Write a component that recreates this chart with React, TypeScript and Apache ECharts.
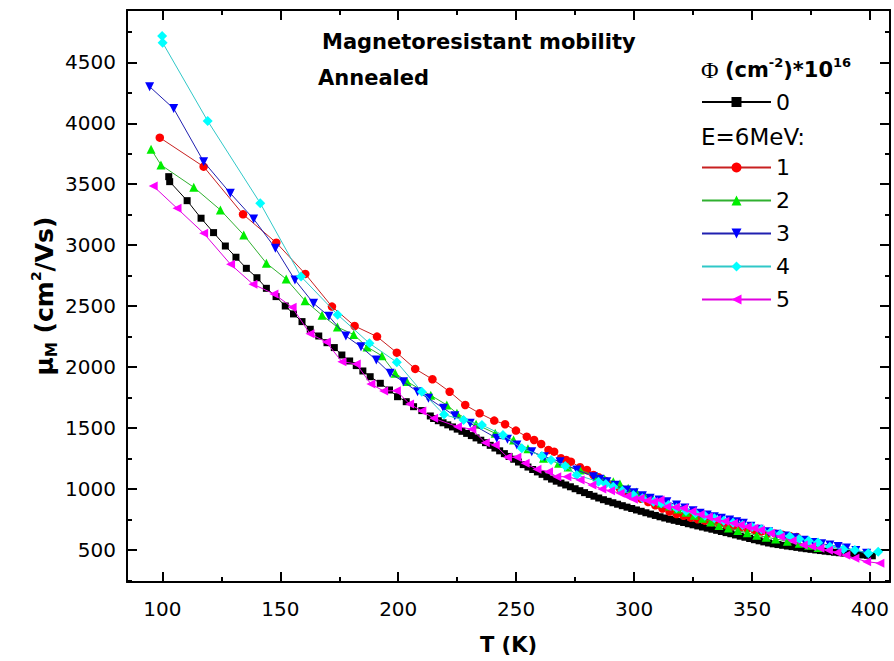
import React, { useEffect, useRef } from "react";
import * as echarts from "echarts";

const FONT = "DejaVu Sans";

// ---- axis ticks ----
const xMajorTicks = [100, 150, 200, 250, 300, 350, 400];
const xMinorTicks = [125, 175, 225, 275, 325, 375];
const yMajorTicks = [500, 1000, 1500, 2000, 2500, 3000, 3500, 4000, 4500];
const yMinorTicks = [250, 750, 1250, 1750, 2250, 2750, 3250, 3750, 4250, 4750];

const X_MIN = 85;
const X_MAX = 408.5;
const Y_MIN = 237;
const Y_MAX = 4929;

// ---- data: [T (K), mobility (cm^2/Vs)] ----
const s0: [number, number][] = [
  [102.7, 3562], [103.1, 3521], [110.5, 3365], [116.4, 3221], [121.7, 3103], [126.7, 2993],
  [131.2, 2901], [135.6, 2810], [140.1, 2733], [144.1, 2646], [148.2, 2578], [152.1, 2501],
  [155.6, 2436], [159.2, 2373], [162.7, 2310], [166.3, 2255], [169.8, 2200], [172.9, 2160],
  [176.1, 2099], [179.4, 2050], [182.2, 2012], [185.0, 1968], [188.1, 1921], [192.4, 1867],
  [196.3, 1812], [199.7, 1757], [203.4, 1716], [206.5, 1675], [210.0, 1643], [213.6, 1599],
  [215, 1578], [217, 1560], [219, 1543], [221, 1526], [223, 1509], [225, 1491],
  [227, 1473], [229, 1456], [231, 1438], [233, 1419], [235, 1400], [237, 1380],
  [239, 1358], [241, 1336], [243, 1313], [245, 1290], [247, 1267], [249, 1244],
  [251, 1221], [253, 1200], [255, 1180], [257, 1160], [259, 1140], [261, 1120],
  [263, 1100], [265, 1081], [267, 1064], [269, 1048], [271, 1033], [273, 1018],
  [275, 1002], [277, 986], [279, 970], [281, 955], [283, 941], [285, 926],
  [287, 912], [289, 899], [291, 887], [293, 875], [295, 863], [297, 851],
  [299, 840], [301, 828], [303, 817], [305, 805], [307, 794], [309, 783],
  [311, 772], [313, 762], [315, 752], [317, 743], [319, 734], [321, 725],
  [323, 715], [325, 706], [327, 697], [329, 688], [331, 679], [333, 670],
  [335, 661], [337, 651], [339, 642], [341, 633], [343, 623], [345, 613],
  [347, 604], [349, 594], [351, 584], [353, 575], [355, 566], [357, 557],
  [359, 550], [361, 544], [363, 538], [365, 532], [367, 527], [369, 521],
  [371, 515], [373, 510], [375, 505], [377, 500], [379, 495], [381, 490],
  [383, 486], [385, 481], [387, 477], [389, 474], [391, 470], [393, 466],
  [395, 463], [397, 459], [399, 456], [401, 452],
];

const s1: [number, number][] = [
  [98.9, 3882], [117.5, 3644], [134.2, 3253], [148.3, 3020], [160.6, 2764], [171.9, 2496],
  [181.5, 2337], [191.0, 2250], [199.4, 2118], [207.2, 1985], [214.5, 1900], [221.8, 1798],
  [228.4, 1689], [234.5, 1621], [240.7, 1561], [245.3, 1531], [249.9, 1479], [254.5, 1429],
  [257.6, 1402], [260.6, 1369], [263.7, 1320], [266.1, 1306], [269.0, 1252], [271.2, 1238],
  [273.2, 1224], [277.1, 1178], [280.0, 1156], [282.8, 1115], [284.9, 1096], [288, 1065],
  [291, 1035], [294, 1005], [297, 975], [300, 948], [303, 920], [306, 893],
  [309, 866], [312, 840], [315, 815], [318, 795], [321, 780], [324, 765],
  [327, 752], [330, 740], [333, 728], [336, 717], [339, 706], [342, 696],
  [345, 686], [348, 675], [351, 664], [354, 652], [357, 641], [360, 632],
  [363, 624], [366, 615], [369, 607],
];

const s2: [number, number][] = [
  [95.2, 3787], [99.4, 3658], [113.3, 3475], [124.6, 3289], [134.5, 3084], [144.1, 2852],
  [152.5, 2722], [160.5, 2544], [167.7, 2425], [174.2, 2328], [181.1, 2267], [186.8, 2165],
  [193.1, 2092], [198.7, 1950], [203.7, 1881], [213.8, 1768], [220.6, 1689], [224.9, 1621],
  [233, 1530], [241.1, 1457], [248.9, 1402], [255, 1330], [261.6, 1252], [268, 1211],
  [272, 1180], [277.1, 1156], [284.2, 1101], [287.5, 1080], [291.2, 1060], [294, 1040],
  [297.5, 1005], [301, 975], [304.5, 945], [308, 915], [311.5, 885], [315, 860],
  [318.5, 835], [322, 810], [325.5, 785], [329, 760], [332.5, 730], [336, 700],
  [340, 680], [344, 660], [348, 640], [352, 620], [356, 605], [360, 590],
  [365, 572], [370, 555], [374, 538], [378, 520],
];

const s3: [number, number][] = [
  [94.6, 4300], [104.8, 4120], [117.5, 3685], [128.8, 3426], [138.7, 3215], [147.9, 2975],
  [156.2, 2715], [164.1, 2523], [170.6, 2417], [177.8, 2255], [184.2, 2166], [190.7, 2058],
  [196.6, 1949], [202.2, 1880], [208.2, 1798], [212.8, 1744], [219.2, 1662], [224, 1600],
  [230.5, 1539], [241.8, 1416], [246.3, 1408], [250.3, 1361], [256.6, 1306], [262, 1265],
  [268.6, 1224], [275.7, 1156], [282.8, 1101], [285.5, 1080], [288.4, 1060], [292, 1030],
  [296.9, 992], [300, 970], [303.5, 945], [306.8, 924], [310.5, 910], [313.9, 896],
  [318, 869], [321.5, 845], [325, 822], [328, 801], [331, 787], [334, 773],
  [337, 760], [340.5, 745], [343.5, 732], [346.3, 719], [349.5, 695], [353, 670],
  [357, 650], [360.5, 629], [364, 615], [368, 600], [372, 580], [376, 560],
  [379.5, 550], [383, 540], [386.5, 528], [390, 515], [394, 495], [398.6, 473],
];

const s4: [number, number][] = [
  [99.9, 4716], [100.1, 4661], [119.2, 4019], [141.5, 3344], [158.8, 2742], [174.3, 2430],
  [187.8, 2195], [199.4, 2040], [210, 1798], [219.4, 1610], [227.7, 1566], [235.5, 1525],
  [244.4, 1443], [252.4, 1334], [260.9, 1271], [264.8, 1238], [270.8, 1189], [275.7, 1115],
  [284.9, 1060], [288, 1040], [291.2, 1019], [295, 985], [299.7, 951], [303.5, 925],
  [308.2, 896], [311.5, 882], [314.5, 869], [318, 845], [322, 820], [326, 800],
  [330, 780], [334, 760], [338, 740], [342, 722], [346, 705], [350, 688],
  [354, 670], [358, 650], [362, 630], [366, 610], [370, 590], [374, 575],
  [378, 560], [383, 527], [388.7, 506], [393.6, 500], [399.3, 473], [403.5, 485],
];

const s5: [number, number][] = [
  [96.1, 3486], [106.2, 3303], [117.5, 3098], [128.9, 2843], [138.4, 2680], [147.3, 2600],
  [155, 2491], [162.6, 2273], [169.5, 2205], [176.1, 2044], [182.2, 2026], [188.4, 1861],
  [193.8, 1804], [199.2, 1806], [204.8, 1697], [210, 1640], [215, 1580], [225.1, 1511],
  [231.2, 1490], [236.9, 1380], [241.1, 1361], [246.3, 1260], [250.3, 1260], [253.8, 1211],
  [258.8, 1162], [263.7, 1142], [267.2, 1101], [271.5, 1101], [277.1, 1074], [282.1, 1033],
  [286.3, 1000], [290, 985], [294.1, 965], [297, 940], [299.7, 915], [302.5, 924],
  [305.5, 905], [308.2, 896], [311, 910], [313.9, 855], [317.5, 850], [320.9, 842],
  [324.5, 815], [328, 790], [331.5, 770], [335, 750], [338.5, 735], [342.1, 719],
  [345, 705], [348, 690], [350.8, 677], [353.6, 664], [357.8, 637], [362, 609],
  [367, 575], [371.7, 541], [375.3, 528], [378.8, 514], [382.4, 497], [386, 480],
  [389.8, 456], [393.6, 432], [398.6, 404], [404.2, 391],
];

const seriesNames = ["0", "1", "2", "3", "4", "5"];
const seriesData = [s0, s1, s2, s3, s4, s5];

// ---- styles ----
const symbolShapes = ["rect", "circle", "triangle", "triangle", "diamond", "triangle"];
const symbolRotations = [0, 0, 0, 180, 0, 90];
const symbolSizes = [7, 8.5, 9, 9, 10, 9];
const markerColors = ["#000000", "#ff0000", "#00ee00", "#0000ff", "#00ffff", "#ff00ff"];
const lineColors = ["#000000", "#c82020", "#30b030", "#2020b0", "#30c8c8", "#e000e0"];

// grid box (px)
const GRID_LEFT = 127;
const GRID_TOP = 10;
const GRID_W = 763;
const GRID_H = 572;
const MAJOR_LEN = 10;
const MINOR_LEN = 5;

const plainNumber = (v: number) => String(v);

function frameAxis(min: number, max: number, position: string) {
  return {
    type: "value",
    min,
    max,
    position,
    splitLine: { show: false },
    axisLine: { show: true, onZero: false, lineStyle: { color: "#000", width: 2 } },
    axisTick: { show: false },
    axisLabel: { show: false },
    axisPointer: { show: false },
    silent: true,
  };
}

// inward tick segments, placed with the axes' own data coordinates
function tickSegments() {
  const dx = (px: number) => (px * (X_MAX - X_MIN)) / GRID_W;
  const dy = (px: number) => (px * (Y_MAX - Y_MIN)) / GRID_H;
  const segs: any[] = [];
  const addX = (ticks: number[], len: number) => {
    ticks.forEach((v) => {
      segs.push([{ coord: [v, Y_MIN] }, { coord: [v, Y_MIN + dy(len)] }]);
      segs.push([{ coord: [v, Y_MAX] }, { coord: [v, Y_MAX - dy(len)] }]);
    });
  };
  const addY = (ticks: number[], len: number) => {
    ticks.forEach((v) => {
      segs.push([{ coord: [X_MIN, v] }, { coord: [X_MIN + dx(len), v] }]);
      segs.push([{ coord: [X_MAX, v] }, { coord: [X_MAX - dx(len), v] }]);
    });
  };
  addX(xMajorTicks, MAJOR_LEN);
  addX(xMinorTicks, MINOR_LEN);
  addY(yMajorTicks, MAJOR_LEN);
  addY(yMinorTicks, MINOR_LEN);
  return segs;
}

export default function App() {
  const ref = useRef<HTMLDivElement>(null);

  useEffect(() => {
    if (!ref.current) return;
    const chart = echarts.init(ref.current, undefined, { renderer: "svg" });

    const labelStyle = { color: "#000", fontSize: 20, fontFamily: FONT };

    const option: any = {
      animation: false,
      backgroundColor: "#ffffff",
      grid: { left: GRID_LEFT, top: GRID_TOP, width: GRID_W, height: GRID_H, containLabel: false, outerBoundsMode: "none" },
      xAxis: [
        {
          ...frameAxis(X_MIN, X_MAX, "bottom"),
          axisLabel: { show: true, customValues: xMajorTicks, margin: 17, formatter: plainNumber, ...labelStyle },
          name: "T (K)",
          nameLocation: "middle",
          nameGap: 52,
          nameMoveOverlap: false,
          nameTextStyle: { fontFamily: FONT, fontWeight: "bold", fontSize: 21, color: "#000" },
        },
        frameAxis(X_MIN, X_MAX, "top"),
      ],
      yAxis: [
        {
          ...frameAxis(Y_MIN, Y_MAX, "left"),
          axisLabel: { show: true, customValues: yMajorTicks, margin: 11, formatter: plainNumber, ...labelStyle },
          name: "{m|\u03bc}{s|M}{m| (cm}{p|2}{m|/Vs)}",
          nameLocation: "middle",
          nameGap: 68,
          nameMoveOverlap: false,
          nameTextStyle: {
            fontFamily: FONT,
            fontWeight: "bold",
            fontSize: 25,
            color: "#000",
            rich: {
              m: { fontFamily: FONT, fontWeight: "bold", fontSize: 25, color: "#000", lineHeight: 30 },
              s: { fontFamily: FONT, fontWeight: "bold", fontSize: 15, color: "#000", verticalAlign: "bottom" },
              p: { fontFamily: FONT, fontWeight: "bold", fontSize: 14, color: "#000", verticalAlign: "top" },
            },
          },
        },
        frameAxis(Y_MIN, Y_MAX, "right"),
      ],
      legend: [
        {
          data: ["0"],
          orient: "vertical",
          left: 701,
          top: 91,
          padding: 0,
          itemWidth: 69,
          itemHeight: 12.5,
          itemGap: 11,
          selectedMode: false,
          textStyle: { fontFamily: FONT, fontSize: 22, color: "#000" },
        },
        {
          data: ["1", "2", "3", "4", "5"],
          orient: "vertical",
          left: 701,
          top: 156.5,
          padding: 0,
          itemWidth: 69,
          itemHeight: 12.5,
          itemGap: 11,
          selectedMode: false,
          textStyle: { fontFamily: FONT, fontSize: 22, color: "#000" },
        },
      ],
      graphic: [
        {
          type: "text",
          x: 322,
          y: 42,
          silent: true,
          style: { text: "Magnetoresistant mobility", fontFamily: FONT, fontWeight: "bold", fontSize: 21, fill: "#000", verticalAlign: "middle" },
        },
        {
          type: "text",
          x: 318,
          y: 78,
          silent: true,
          style: { text: "Annealed", fontFamily: FONT, fontWeight: "bold", fontSize: 21, fill: "#000", verticalAlign: "middle" },
        },
        {
          type: "text",
          x: 701,
          y: 70,
          silent: true,
          style: {
            text: "{f|\u03a6} {b|(cm}{u|-2}{b|)*10}{u|16}",
            verticalAlign: "middle",
            rich: {
              f: { fontFamily: "Liberation Serif", fontSize: 24, fill: "#000", lineHeight: 28, padding: [0, 3, 0, 0] },
              b: { fontFamily: FONT, fontWeight: "bold", fontSize: 21, fill: "#000", lineHeight: 28 },
              u: { fontFamily: FONT, fontWeight: "bold", fontSize: 13, fill: "#000", verticalAlign: "top" },
            },
          },
        },
        {
          type: "text",
          x: 701,
          y: 137,
          silent: true,
          style: { text: "E=6MeV:", fontFamily: FONT, fontSize: 23, fill: "#000", verticalAlign: "middle" },
        },
      ],
      series: [
        {
          type: "line",
          name: "axis-ticks",
          data: [],
          silent: true,
          clip: false,
          z: 1,
          markLine: {
            silent: true,
            animation: false,
            symbol: ["none", "none"],
            label: { show: false },
            emphasis: { disabled: true },
            lineStyle: { color: "#000000", width: 2, type: "solid" },
            data: tickSegments(),
          },
        },
        ...seriesData.map((d, i) => ({
          type: "line",
          name: seriesNames[i],
          data: d,
          xAxisIndex: 0,
          yAxisIndex: 0,
          symbol: symbolShapes[i],
          symbolRotate: symbolRotations[i],
          symbolSize: symbolSizes[i],
          showSymbol: true,
          showAllSymbol: true,
          clip: false,
          itemStyle: { color: markerColors[i] },
          lineStyle: { color: lineColors[i], width: 1 },
          emphasis: { disabled: true },
          z: 2 + i,
        })),
      ],
    };

    chart.setOption(option);
    return () => {
      chart.dispose();
    };
  }, []);

  return <div ref={ref} style={{ position: "absolute", left: 0, top: 0, width: 894, height: 661 }} />;
}
